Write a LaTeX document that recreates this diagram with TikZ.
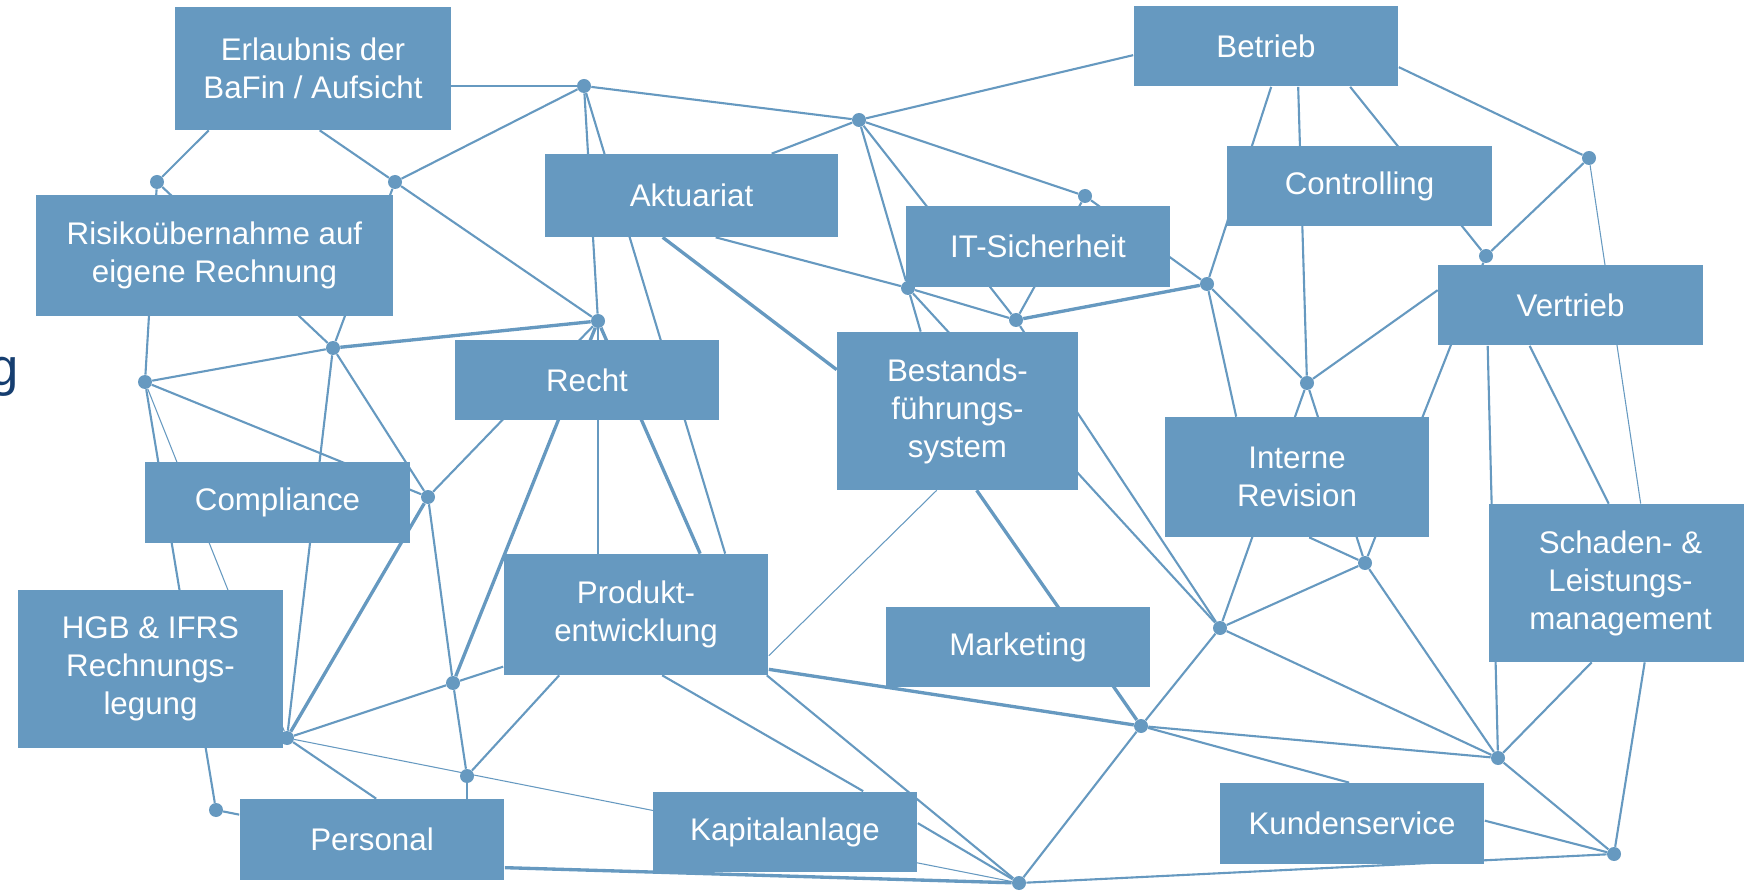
\documentclass[tikz,border=0pt]{standalone}
\usepackage{fontspec}
\setmainfont{Liberation Sans}
\usepackage{tikz}
\usetikzlibrary{positioning,calc,backgrounds}

\definecolor{boxblue}{RGB}{102,153,192}
\definecolor{titleblue}{RGB}{22,62,112}
\newcommand{\deptfont}{\fontsize{17.8}{21.6}\selectfont}

\begin{document}
\begin{tikzpicture}[
    x=0.02cm, y=-0.02cm,
    dept/.style={rectangle, fill=boxblue, text=white, align=center, inner sep=0pt, minimum width=5.3cm, minimum height=1.62cm, font=\deptfont},
    hub/.style={circle, fill=boxblue, inner sep=0pt, minimum size=0.28cm},
    link/.style={draw=boxblue, line width=1.2pt},
    heavylink/.style={draw=boxblue, line width=1.9pt},
    faintlink/.style={draw=boxblue, line width=0.6pt}
]
\useasboundingbox (0,0) rectangle (1744,891);

% letter cut off at the left edge
\node[anchor=base east, inner sep=0pt, text=titleblue, font=\fontsize{30}{30}\selectfont] (headg) at (19,386) {g};

% departments
\node[dept, minimum width=5.52cm, minimum height=2.46cm] (erlaubnis) at (313,68.5) {Erlaubnis der\\BaFin / Aufsicht};
\node[dept, minimum width=7.14cm, minimum height=2.42cm] (risiko) at (214.5,255.5) {Risikoübernahme auf\\eigene Rechnung};
\node[dept, minimum width=5.86cm, minimum height=1.66cm] (aktuariat) at (691.5,195.5) {Aktuariat};
\node[dept] (recht) at (587,380) {Recht};
\node[dept] (betrieb) at (1266,46) {Betrieb};
\node[dept] (controlling) at (1359.5,186) {Controlling};
\node[dept] (itsec) at (1038,246.5) {IT-Sicherheit};
\node[dept, minimum width=4.82cm, minimum height=3.16cm] (bestand) at (957.5,411) {Bestands-\\führungs-\\system};
\node[dept] (vertrieb) at (1570.5,305) {Vertrieb};
\node[dept, minimum height=2.4cm] (revision) at (1297,477) {Interne\\Revision};
\node[dept, minimum width=5.26cm, minimum height=3.16cm] (schaden) at (1620.5,583) {Schaden- \&\\Leistungs-\\management};
\node[dept] (compliance) at (277.5,502.5) {Compliance};
\node[dept, minimum height=3.16cm] (hgb) at (150.5,669) {HGB \& IFRS\\Rechnungs-\\legung};
\node[dept, minimum height=2.42cm] (produkt) at (636,614.5) {Produkt-\\entwicklung};
\node[dept] (marketing) at (1018,647) {Marketing};
\node[dept] (personal) at (372,839.5) {Personal};
\node[dept] (kapital) at (785,832) {Kapitalanlage};
\node[dept] (kunden) at (1352,823.5) {Kundenservice};

% junction dots
\node[hub] (jA) at (157,182) {};
\node[hub] (jB) at (395,182) {};
\node[hub] (jC) at (584,86) {};
\node[hub] (jD) at (333,348) {};
\node[hub] (jE) at (145,382) {};
\node[hub] (jF) at (598,321) {};
\node[hub] (jG) at (859,120) {};
\node[hub] (jH) at (1085,196) {};
\node[hub] (jI) at (908,288) {};
\node[hub] (jJ) at (1016,320) {};
\node[hub] (jK) at (1207,284) {};
\node[hub] (jL) at (1589,158) {};
\node[hub] (jM) at (1486,256) {};
\node[hub] (jN) at (1307,383) {};
\node[hub] (jO) at (1365,563) {};
\node[hub] (jR) at (1220,628) {};
\node[hub] (jQ) at (1498,758) {};
\node[hub] (jS) at (1141,726) {};
\node[hub] (jT) at (1019,883) {};
\node[hub] (jP) at (1614,854) {};
\node[hub] (jU) at (428,497) {};
\node[hub] (jV) at (287,738) {};
\node[hub] (jW) at (453,683) {};
\node[hub] (jX) at (467,776) {};
\node[hub] (jY) at (216,810) {};

\begin{scope}[on background layer]
% dot to dot
\draw[link] (jA) -- (jE);
\draw[link] (jA) -- (jD);
\draw[link] (jB) -- (jC);
\draw[link] (jB) -- (jF);
\draw[link] (jB) -- (jD);
\draw[link] (jE) -- (jD);
\draw[link] (jE) -- (jY);
\draw[faintlink] (jE) -- (jV);
\draw[link] (jE) -- (jU);
\draw[heavylink] (jD) -- (jF);
\draw[link] (jD) -- (jV);
\draw[link] (jD) -- (jU);
\draw[link] (jC) -- (jG);
\draw[link] (jC) -- (jF);
\draw[link] (jG) -- (jH);
\draw[link] (jG) -- (jI);
\draw[link] (jG) -- (jJ);
\draw[link] (jH) -- (jK);
\draw[link] (jH) -- (jJ);
\draw[link] (jI) -- (jJ);
\draw[heavylink] (jJ) -- (jK);
\draw[link] (jI) -- (jR);
\draw[link] (jJ) -- (jR);
\draw[link] (jK) -- (jN);
\draw[link] (jL) -- (jM);
\draw[link] (jM) -- (jO);
\draw[link] (jN) -- (jR);
\draw[link] (jN) -- (jO);
\draw[link] (jR) -- (jO);
\draw[link] (jR) -- (jQ);
\draw[link] (jR) -- (jS);
\draw[link] (jO) -- (jQ);
\draw[link] (jS) -- (jQ);
\draw[link] (jQ) -- (jP);
\draw[link] (jS) -- (jT);
\draw[link] (jP) -- (jT);
\draw[link] (jU) -- (jF);
\draw[heavylink] (jU) -- (jV);
\draw[link] (jU) -- (jW);
\draw[link] (jW) -- (jX);
\draw[heavylink] (jF) -- (jW);
\draw[link] (jV) -- (jW);
\draw[faintlink] (jV) -- (jT);

% dot to box
\draw[link] ($(erlaubnis.south west)+(34,0)$) -- (jA);
\draw[link] ($(erlaubnis.south west)+(145,0)$) -- (jB);
\draw[link] (erlaubnis.east |- jC) -- (jC);
\draw[link] (jG) -- ($(betrieb.north west)+(0,50)$);
\draw[link] (jG) -- ($(aktuariat.north west)+(227,0)$);
\draw[heavylink] ($(aktuariat.south west)+(118,0)$) -- ($(bestand.north west)+(0,38)$);
\draw[link] ($(aktuariat.south west)+(171,0)$) -- (jI);
\draw[link] (jI) -- ($(bestand.north west)+(84,0)$);
\draw[link] (jC) -- ($(produkt.north west)+(222,0)$);
\draw[link] (jF) -- (jF |- produkt.north);
\draw[heavylink] (jF) -- ($(produkt.north west)+(197,0)$);
\draw[link] ($(betrieb.south west)+(138,0)$) -- (jK);
\draw[link] ($(betrieb.south west)+(165,0)$) -- (jN);
\draw[link] ($(betrieb.south west)+(217,0)$) -- (jM);
\draw[link] ($(betrieb.north east)+(0,62)$) -- (jL);
\draw[link] (jK) -- ($(revision.north west)+(72,0)$);
\draw[link] (jN) -- ($(vertrieb.north west)+(0,26)$);
\draw[link] ($(vertrieb.south west)+(50,0)$) -- (jQ);
\draw[link] ($(vertrieb.south west)+(92,0)$) -- ($(schaden.north west)+(120,0)$);
\draw[faintlink] (jL) -- ($(schaden.north west)+(152,0)$);
\draw[link] ($(revision.south west)+(145,0)$) -- (jO);
\draw[link] ($(schaden.south west)+(103,0)$) -- (jQ);
\draw[link] ($(schaden.south west)+(156,0)$) -- (jP);
\draw[link] (jS) -- ($(kunden.north west)+(130,0)$);
\draw[link] ($(kunden.north east)+(0,38)$) -- (jP);
\draw[heavylink] ($(bestand.south west)+(140,0)$) -- (jS);
\draw[faintlink] ($(bestand.south west)+(100,0)$) -- ($(produkt.north east)+(0,102)$);
\draw[heavylink] ($(produkt.south east)+(0,-6)$) -- (jS);
\draw[link] ($(produkt.south east)+(-2,0)$) -- (jT);
\draw[link] ($(produkt.south west)+(159,0)$) -- ($(kapital.north west)+(211,0)$);
\draw[link] ($(kapital.north east)+(0,32)$) -- (jT);
\draw[heavylink] ($(personal.north east)+(0,69)$) -- (jT);
\draw[link] (jW) -- ($(produkt.north west)+(0,113)$);
\draw[link] (jX) -- ($(produkt.south west)+(56,0)$);
\draw[link] (jX) -- (jX |- personal.north);
\draw[link] (jV) -- ($(personal.north west)+(137,0)$);
\draw[link] (jY) -- ($(personal.north west)+(0,16)$);
\end{scope}

\end{tikzpicture}
\end{document}
